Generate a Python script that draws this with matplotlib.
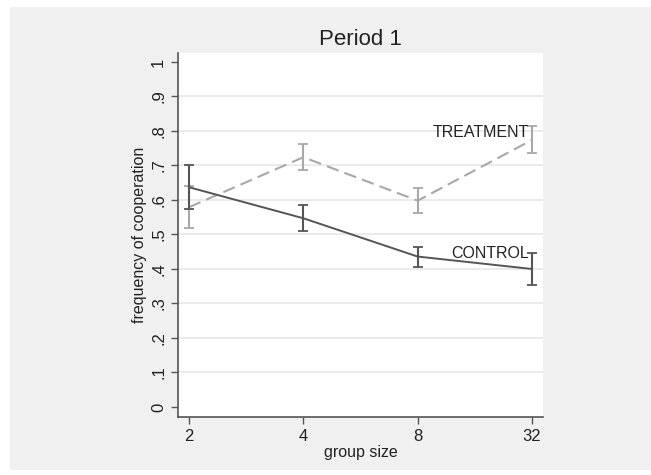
import matplotlib.pyplot as plt
from matplotlib.patches import Rectangle

plt.rcParams['font.family'] = ['Liberation Sans', 'DejaVu Sans']

group_sizes = ['2', '4', '8', '32']
control = [0.637, 0.547, 0.436, 0.400]
control_err = [0.063, 0.038, 0.029, 0.047]
treatment = [0.579, 0.724, 0.598, 0.774]
treatment_err = [0.061, 0.037, 0.036, 0.039]
y_ticks = [0, 0.1, 0.2, 0.3, 0.4, 0.5, 0.6, 0.7, 0.8, 0.9, 1.0]
y_labels = ['0', '.1', '.2', '.3', '.4', '.5', '.6', '.7', '.8', '.9', '1']

W, H = 651, 475
fig = plt.figure(figsize=(W / 100, H / 100), dpi=100)
fig.patch.set_facecolor('white')
# grey panel behind the graph
fig.add_artist(Rectangle((10 / W, 5 / H), 1 - 10 / W, 1 - 12 / H,
                         transform=fig.transFigure, facecolor='#f0f0f0',
                         edgecolor='none', zorder=-10))

ax = fig.add_axes([178 / W, 1 - 417 / H, (543 - 178) / W, (417 - 53) / H])
ax.set_zorder(1)
ax.set_facecolor('white')
x = range(1, len(group_sizes) + 1)

ax.errorbar(x, treatment, yerr=treatment_err, color='#a8a8a8', lw=1.5,
            ls=(0, (6, 3)), capsize=3.5, elinewidth=1.5, capthick=1.3, zorder=3)
ax.errorbar(x, control, yerr=control_err, color='#555555', lw=1.4,
            capsize=3.5, elinewidth=1.5, capthick=1.3, zorder=4)

ax.text(3.97, 0.795, 'TREATMENT', ha='right', va='center', fontsize=11.5, color='#222222')
ax.text(3.97, 0.446, 'CONTROL', ha='right', va='center', fontsize=11.5, color='#222222')

ax.set_xlim(0.904, 4.096)
ax.set_ylim(-0.029, 1.026)
ax.set_xticks(list(x))
ax.set_xticklabels(group_sizes, fontsize=12)
ax.set_yticks(y_ticks)
ax.set_yticklabels(y_labels, fontsize=12, rotation=90, va='center')
for v in y_ticks[1:-1]:
    ax.axhline(v, color='#e8e8e8', lw=1.2, zorder=1)

for side in ['top', 'right']:
    ax.spines[side].set_visible(False)
for side in ['left', 'bottom']:
    ax.spines[side].set_color('#555555')
    ax.spines[side].set_linewidth(1.2)
ax.tick_params(colors='#555555', labelcolor='#222222', length=5, width=1)

ax.set_xlabel('group size', fontsize=11.5, color='#222222', labelpad=1)
ax.set_ylabel('frequency of cooperation', fontsize=11.5, color='#222222', labelpad=3)
ax.set_title('Period 1', fontsize=16, color='#222222', pad=6)

fig.savefig('out.png', dpi=100, facecolor=fig.get_facecolor())
